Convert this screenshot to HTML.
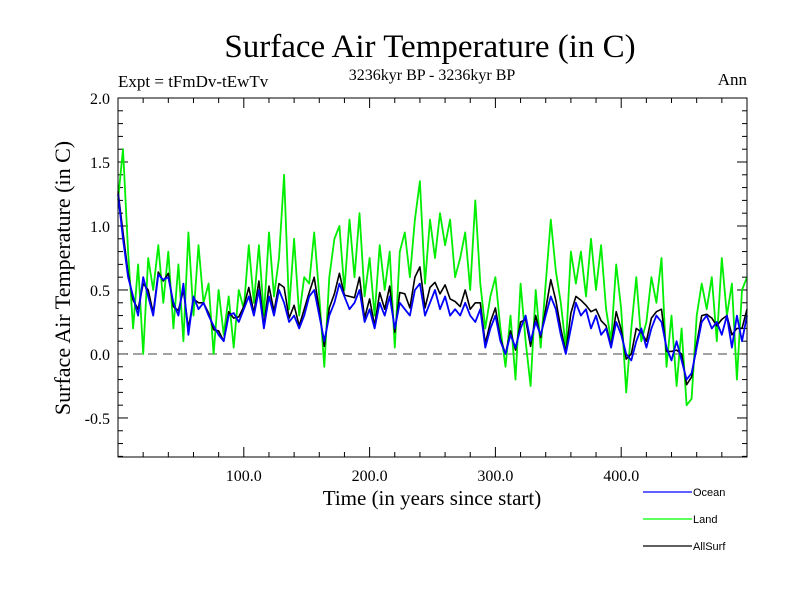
<!DOCTYPE html>
<html><head><meta charset="utf-8"><style>
body{margin:0;background:#fff;}
svg text{font-family:"Liberation Serif",serif;}
</style></head><body>
<svg id="chart" width="800" height="600" xmlns="http://www.w3.org/2000/svg">
<text x="430" y="57" font-size="33" text-anchor="middle">Surface Air Temperature (in C)</text>
<text x="118" y="87" font-size="17">Expt = tFmDv-tEwTv</text>
<text x="432" y="80" font-size="16" text-anchor="middle">3236kyr BP - 3236kyr BP</text>
<text x="747" y="85" font-size="17" text-anchor="end">Ann</text>
<text x="432" y="505" font-size="21" text-anchor="middle">Time (in years since start)</text>
<text transform="translate(70,278) rotate(-90)" font-size="22" text-anchor="middle">Surface Air Temperature (in C)</text>
<g id="axes"></g>
<g id="series"></g>
<rect x="118" y="98" width="629" height="359" fill="none" stroke="#000" stroke-width="1"/>
<g font-size="11">
<line x1="643" y1="492" x2="692" y2="492" stroke="#0000ff" stroke-width="1.2"/>
<text x="693" y="496" style="font-family:'Liberation Sans',sans-serif">Ocean</text>
<line x1="643" y1="519" x2="692" y2="519" stroke="#00ff00" stroke-width="1.2"/>
<text x="693" y="523" style="font-family:'Liberation Sans',sans-serif">Land</text>
<line x1="643" y1="546" x2="692" y2="546" stroke="#000" stroke-width="1.2"/>
<text x="693" y="550" style="font-family:'Liberation Sans',sans-serif">AllSurf</text>
</g>
</svg>
<script>
const years = [];
for (let i = 0; i <= 125; i++) years.push(i * 4);
const ocean = [1.25,0.9,0.6,0.45,0.3,0.6,0.45,0.3,0.62,0.58,0.6,0.4,0.3,0.55,0.15,0.45,0.35,0.4,0.3,0.22,0.15,0.1,0.3,0.32,0.25,0.35,0.45,0.3,0.5,0.2,0.45,0.3,0.5,0.4,0.25,0.3,0.2,0.3,0.45,0.5,0.3,0.1,0.3,0.4,0.55,0.45,0.35,0.4,0.5,0.25,0.35,0.2,0.4,0.3,0.45,0.2,0.4,0.35,0.3,0.5,0.55,0.3,0.4,0.5,0.35,0.45,0.3,0.35,0.3,0.4,0.3,0.25,0.35,0.05,0.2,0.3,0.1,0.0,0.15,0.05,0.2,0.3,0.1,0.25,0.15,0.3,0.45,0.35,0.15,0.0,0.2,0.4,0.3,0.35,0.2,0.3,0.15,0.2,0.05,0.25,0.15,0.0,-0.05,0.1,0.2,0.05,0.2,0.3,0.25,0.05,-0.05,0.1,-0.05,-0.2,-0.15,0.05,0.25,0.3,0.2,0.25,0.15,0.3,0.05,0.3,0.1,0.3];
const land = [1.2,1.6,0.8,0.2,0.7,0.0,0.75,0.5,0.85,0.4,0.8,0.2,0.7,0.1,0.95,0.3,0.85,0.4,0.55,0.0,0.5,0.15,0.45,0.05,0.5,0.35,0.85,0.4,0.85,0.3,0.95,0.45,0.75,1.4,0.35,0.9,0.3,0.6,0.55,0.95,0.45,-0.1,0.6,0.9,1.0,0.5,1.05,0.6,1.1,0.45,0.75,0.3,0.85,0.5,0.8,0.05,0.8,0.95,0.6,1.05,1.35,0.55,1.05,0.75,1.1,0.85,1.05,0.6,0.75,0.95,0.5,1.2,0.55,0.2,0.45,0.6,0.2,-0.1,0.3,-0.2,0.55,0.1,-0.25,0.5,0.05,0.55,1.05,0.65,0.4,0.05,0.8,0.55,0.8,0.45,0.9,0.5,0.85,0.35,0.1,0.7,0.35,-0.3,0.2,0.6,0.1,0.25,0.6,0.4,0.75,-0.1,0.3,-0.25,0.2,-0.4,-0.35,0.3,0.55,0.35,0.6,0.1,0.75,0.3,0.55,-0.2,0.5,0.6];
const allsurf = [1.27,0.95,0.63,0.42,0.35,0.55,0.5,0.32,0.64,0.57,0.63,0.37,0.34,0.5,0.2,0.43,0.4,0.4,0.32,0.19,0.18,0.1,0.33,0.28,0.29,0.37,0.52,0.32,0.57,0.22,0.53,0.33,0.55,0.52,0.28,0.38,0.22,0.35,0.48,0.6,0.34,0.06,0.36,0.47,0.63,0.46,0.45,0.44,0.6,0.28,0.43,0.22,0.48,0.35,0.53,0.17,0.48,0.47,0.36,0.6,0.68,0.36,0.52,0.56,0.47,0.54,0.43,0.41,0.37,0.5,0.35,0.4,0.4,0.08,0.25,0.36,0.12,0.0,0.18,0.03,0.25,0.27,0.06,0.3,0.13,0.35,0.58,0.42,0.2,0.01,0.32,0.45,0.42,0.38,0.33,0.35,0.26,0.22,0.06,0.33,0.19,-0.04,0.0,0.2,0.17,0.1,0.28,0.33,0.35,0.02,0.02,0.03,0.0,-0.24,-0.18,0.08,0.3,0.31,0.28,0.22,0.27,0.3,0.15,0.2,0.2,0.35];
const xTicks = [100,200,300,400];
const xTickLabels = ["100.0","200.0","300.0","400.0"];
const yTicks = [-0.5,0.0,0.5,1.0,1.5,2.0];
const yTickLabels = ["-0.5","0.0","0.5","1.0","1.5","2.0"];

const X0=118,X1=747,Y0=98,Y1=457, XMIN=0,XMAX=500, YMIN=-0.805,YMAX=2.0;
const sx = v => X0 + (v-XMIN)/(XMAX-XMIN)*(X1-X0);
const sy = v => Y1 - (v-YMIN)/(YMAX-YMIN)*(Y1-Y0);
const NS="http://www.w3.org/2000/svg";
const axes=document.getElementById('axes');
function mk(tag,attrs,parent){const e=document.createElementNS(NS,tag);for(const k in attrs)e.setAttribute(k,attrs[k]);parent.appendChild(e);return e;}
for(let v=20; v<500; v+=20){
  const major = v%100===0;
  const len = major?10:5;
  const t1=mk('line',{x1:sx(v),x2:sx(v),y1:Y1,y2:Y1-len,stroke:'#000'},axes);
  
  
  const t2=mk('line',{x1:sx(v),x2:sx(v),y1:Y0,y2:Y0+len,stroke:'#000'},axes);
  
  
}
xTicks.forEach((v,i)=>{
  const t=mk('text',{x:sx(v),y:Y1+24,'font-size':16,'text-anchor':'middle'},axes);
  t.textContent=xTickLabels[i];
  
  
});
for(let k=-8;k<=20;k++){
  const v=k/10; if(v<YMIN) continue;
  const major = (k%5===0);
  const len = major?10:5;
  const t1=mk('line',{x1:X0,x2:X0+len,y1:sy(v),y2:sy(v),stroke:'#000'},axes);
  
  
  const t2=mk('line',{x1:X1,x2:X1-len,y1:sy(v),y2:sy(v),stroke:'#000'},axes);
  
  
}
yTicks.forEach((v,i)=>{
  const t=mk('text',{x:X0-8,y:sy(v)+6,'font-size':16,'text-anchor':'end'},axes);
  t.textContent=yTickLabels[i];
  
  
});
const zl=mk('line',{x1:X0,x2:X1,y1:sy(0),y2:sy(0),stroke:'#444','stroke-dasharray':'9,6'},axes);



const series=document.getElementById('series');
function draw(vals,color,name,w){
  const d=vals.map((v,i)=>(i?'L':'M')+sx(years[i]).toFixed(1)+','+sy(v).toFixed(1)).join('');
  const p=mk('path',{d:d,fill:'none',stroke:color,'stroke-width':w,'stroke-linejoin':'round'},series);
  
  
}
draw(land,'#00ee00','land-line',1.8);
draw(allsurf,'#000000','allsurf-line',1.6);
draw(ocean,'#0000ff','ocean-line',1.8);
</script>
</body></html>
